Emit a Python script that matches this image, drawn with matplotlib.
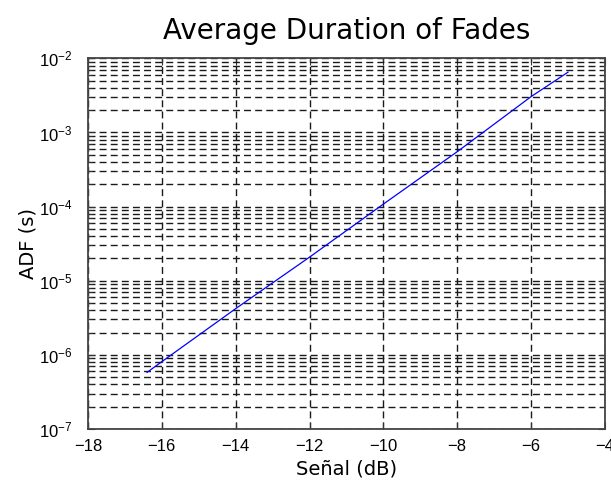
import matplotlib
matplotlib.use("Agg")
import matplotlib.pyplot as plt
from matplotlib.ticker import LogLocator, FixedLocator, NullFormatter

plt.rcParams["font.family"] = ["Liberation Sans", "DejaVu Sans"]
plt.rcParams["mathtext.fontset"] = "custom"
plt.rcParams["mathtext.rm"] = "Liberation Sans"
plt.rcParams["mathtext.it"] = "Liberation Sans:italic"

# Average duration of fades vs. signal level
senal_db = [-16.4, -16.0, -14.0, -12.0, -10.0, -8.0, -6.0, -5.0]
adf_s = [5.8e-7, 8.1e-7, 4.2e-6, 2.08e-5, 1.08e-4, 5.5e-4, 3.04e-3, 6.5e-3]

x_ticks = [-18, -16, -14, -12, -10, -8, -6, -4]
x_limits = (-18, -4)
y_limits = (1e-7, 1e-2)

fig = plt.figure(figsize=(6.11, 4.86), dpi=100)
ax = fig.add_axes([0.144, 0.1173, 0.846, 0.7627])

ax.semilogy(senal_db, adf_s, color=(0, 0, 1), lw=0.9)

ax.set_xlim(*x_limits)
ax.set_ylim(*y_limits)
ax.xaxis.set_major_locator(FixedLocator(x_ticks))
ax.yaxis.set_major_locator(LogLocator(base=10, numticks=10))
ax.yaxis.set_minor_locator(LogLocator(base=10, subs=range(2, 10), numticks=10))
ax.yaxis.set_minor_formatter(NullFormatter())

grid_style = dict(color="#1a1a1a", linestyle=(0, (5, 3)), linewidth=1.0)
ax.grid(True, which="major", axis="both", **grid_style)
ax.grid(True, which="minor", axis="y", **grid_style)

ax.tick_params(which="both", direction="in", top=True, right=True,
               labelsize=12, color="#333333")
ax.tick_params(which="major", length=5)
ax.tick_params(which="minor", length=3)
ax.tick_params(axis="x", which="major", pad=7)
ax.tick_params(axis="y", which="major", pad=11)
for s in ax.spines.values():
    s.set_color("#444444")
    s.set_linewidth(1.3)

ax.set_title("Average Duration of Fades", fontsize=20, pad=14,
             family=["DejaVu Sans"])
ax.set_xlabel("Señal (dB)", fontsize=14, labelpad=4, family=["DejaVu Sans"])
ax.set_ylabel("ADF (s)", fontsize=14, labelpad=1, family=["DejaVu Sans"])

fig.savefig("out.png", dpi=100)
